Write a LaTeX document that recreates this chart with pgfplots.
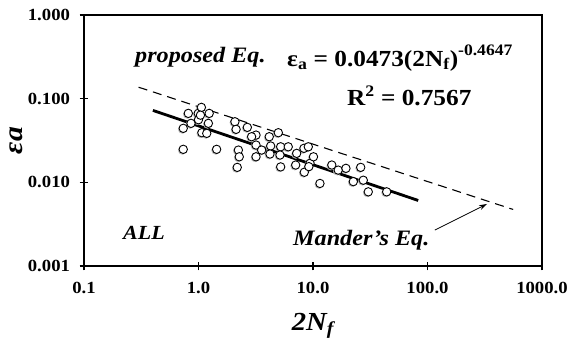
\documentclass[border=0pt]{standalone}
\usepackage{pgfplots}
\pgfplotsset{compat=1.18}
\usepackage{pgfplotstable}
\usepackage{fontspec}
\setmainfont{Liberation Serif}[FakeStretch=1.1]
\usetikzlibrary{arrows.meta}

\pgfplotstableread{
x y
0.815 0.0667
0.995 0.0667
1.06 0.0787
1.24 0.0667
0.736 0.0442
0.86 0.0507
1.07 0.0392
1.18 0.0385
1.22 0.0507
0.736 0.0248
1.44 0.0248
1.00 0.0560
1.04 0.0635
2.08 0.0530
2.13 0.0430
2.67 0.0454
2.23 0.0243
2.27 0.0202
2.18 0.0151
3.18 0.0367
2.91 0.0351
3.18 0.0279
3.18 0.0202
3.56 0.0243
4.15 0.0351
4.27 0.0272
4.21 0.0218
4.98 0.0392
5.22 0.0266
5.22 0.0153
5.15 0.0212
6.08 0.0266
7.06 0.0161
7.20 0.0222
8.34 0.0255
9.10 0.0266
8.40 0.0132
9.42 0.0169
9.20 0.0154
10.1 0.0202
11.5 0.0097
14.6 0.0161
16.6 0.0140
19.4 0.0147
26.1 0.0151
22.5 0.0102
27.5 0.0106
30.4 0.0077
44.0 0.0077
}\datatable

\begin{document}
\begin{tikzpicture}
\useasboundingbox (0,0) rectangle (568pt,340pt);
\begin{axis}[
  at={(84pt,74pt)}, anchor=south west,
  scale only axis, width=458pt, height=251pt,
  xmode=log, ymode=log,
  xmin=0.1, xmax=1000, ymin=0.001, ymax=1,
  xtick={0.1,1,10,100,1000}, xticklabels={0.1,1.0,10.0,100.0,1000.0},
  ytick={0.001,0.01,0.1,1}, yticklabels={0.001,0.010,0.100,1.000},
  xminorticks=false, yminorticks=false,
  xtick pos=bottom, ytick pos=left, tick align=center,
  major tick length=9pt,
  axis line style={line width=1.4pt},
  every tick/.style={black, line width=1.3pt},
  ticklabel style={font=\fontsize{17}{17}\selectfont\bfseries},
  xticklabel style={yshift=-8pt},
  yticklabel style={xshift=-6pt},
  xlabel={2N\textsubscript{f}},
  xlabel style={at={(axis description cs:0.5,-0.255)}, anchor=base, font=\fontsize{26}{26}\selectfont\bfseries\itshape},
  ylabel={εa},
  ylabel style={at={(axis description cs:-0.147,0.5)}, anchor=center, font=\fontsize{27}{27}\selectfont\bfseries\itshape},
  clip=false,
]
\addplot[only marks, mark=*, mark size=4.2pt, mark options={fill=gray!55, draw=gray!55, xshift=-0.9pt, yshift=-0.9pt}] table {\datatable};
\addplot[only marks, mark=*, mark size=4.2pt, mark options={fill=white, draw=black, line width=0.9pt}] table {\datatable};
\addplot[black, line width=2.8pt] coordinates {(0.4,0.0724) (83,0.00607)};
\addplot[black, line width=1.1pt, dash pattern=on 9pt off 6pt] coordinates {(0.3,0.137) (560,0.00474)};

\node[anchor=base west, inner sep=0, font=\fontsize{22}{22}\selectfont\bfseries\itshape] at (axis cs:0.279,0.268) {proposed Eq.};
\node[anchor=base west, inner sep=0, font=\fontsize{23}{23}\selectfont\bfseries] at (axis cs:5.93,0.245) {ε\textsubscript{a} = 0.0473(2N\textsubscript{f})\raisebox{11pt}{\fontsize{16}{16}\selectfont-0.4647}};
\node[anchor=base west, inner sep=0, font=\fontsize{23}{23}\selectfont\bfseries] at (axis cs:19.8,0.0839) {R\textsuperscript{2} = 0.7567};
\node[anchor=base west, inner sep=0, font=\fontsize{20}{20}\selectfont\bfseries\itshape] at (axis cs:0.219,0.0021) {ALL};
\node[anchor=base west, inner sep=0, font=\fontsize{22}{22}\selectfont\bfseries\itshape] at (axis cs:6.68,0.00178) {Mander's Eq.};
\draw[-{Stealth[length=8pt,width=5pt]}, line width=0.8pt] (axis cs:116,0.00269) -- (axis cs:331,0.00551);
\end{axis}
\end{tikzpicture}
\end{document}
